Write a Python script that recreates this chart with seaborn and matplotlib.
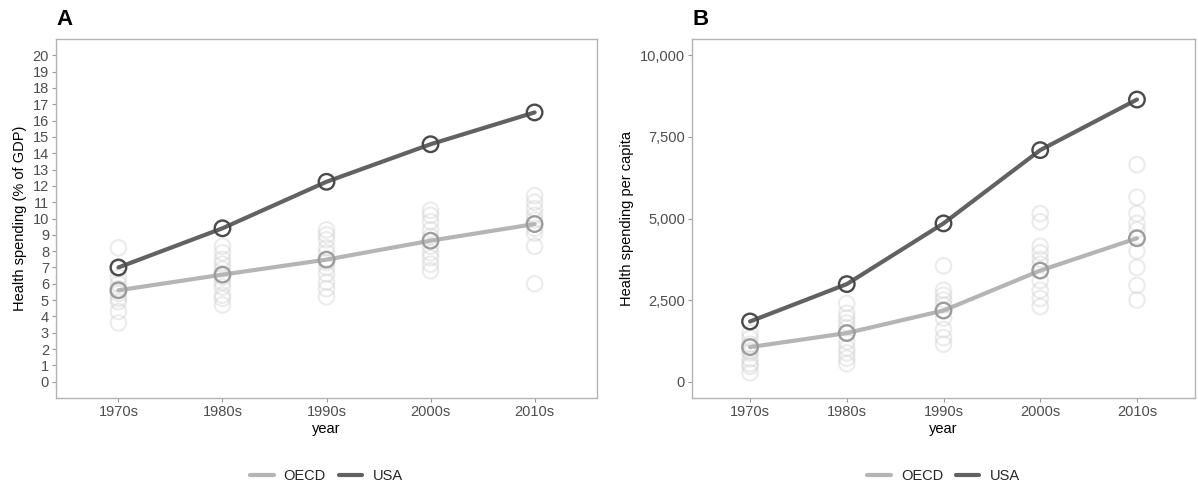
import numpy as np
import pandas as pd
import matplotlib
matplotlib.use("Agg")
import matplotlib.pyplot as plt
import matplotlib.ticker as mticker
import seaborn as sns

decades = ["1970s", "1980s", "1990s", "2000s", "2010s"]
groups = ["OECD", "USA"]

# Panel A: % of GDP
usa_gdp = [7.0, 9.4, 12.25, 14.55, 16.5]
oecd_gdp = [5.6, 6.56, 7.48, 8.64, 9.66]
countries_gdp = {
    "1970s": [8.2, 6.9, 6.4, 6.0, 5.7, 5.4, 5.1, 4.9, 4.3, 3.6],
    "1980s": [8.3, 7.9, 7.5, 7.2, 6.9, 6.4, 6.1, 5.8, 5.3, 5.1, 4.7],
    "1990s": [9.3, 9.0, 8.7, 8.2, 7.9, 7.3, 7.0, 6.6, 6.1, 5.7, 5.2],
    "2000s": [10.5, 10.2, 9.8, 9.3, 8.9, 8.3, 7.9, 7.6, 7.2, 6.8],
    "2010s": [11.4, 11.0, 10.6, 10.2, 9.9, 9.4, 9.1, 8.3, 6.0],
}

# Panel B: per capita
usa_pc = [1845, 2990, 4850, 7095, 8645]
oecd_pc = [1060, 1490, 2180, 3405, 4395]
countries_pc = {
    "1970s": [1500, 1340, 1150, 950, 880, 700, 550, 470, 270],
    "1980s": [2400, 2100, 1950, 1800, 1650, 1230, 1030, 880, 720, 550],
    "1990s": [3550, 2800, 2650, 2500, 2350, 1950, 1600, 1350, 1150],
    "2000s": [5150, 4900, 4150, 3950, 3750, 3600, 3100, 2800, 2550, 2300],
    "2010s": [6650, 5650, 5150, 4850, 4650, 4000, 3500, 2950, 2500],
}

sns.set_theme(style="white")
plt.rcParams["font.family"] = ["Liberation Sans", "DejaVu Sans"]

line_pal = {"OECD": "#b5b5b5", "USA": "#626262"}
edge_pal = {"OECD": "#9c9c9c", "USA": "#4a4a4a"}

fig = plt.figure(figsize=(11.98, 4.91), dpi=100)
W, H = 1198, 491
axA = fig.add_axes([56 / W, 1 - 398 / H, 541 / W, 359 / H])
axB = fig.add_axes([692 / W, 1 - 398 / H, 503 / W, 359 / H])


def build(usa, oecd, countries):
    summ = pd.DataFrame({
        "decade": decades * 2,
        "group": ["OECD"] * 5 + ["USA"] * 5,
        "value": list(oecd) + list(usa),
    })
    rows = []
    for d in decades:
        for v in countries[d]:
            rows.append({"decade": d, "value": v})
    pts = pd.DataFrame(rows)
    return summ, pts


def draw(ax, usa, oecd, countries, ylabel, yticks, ylim, fmt, tag):
    summ, pts = build(usa, oecd, countries)
    sns.scatterplot(data=pts, x="decade", y="value", ax=ax, marker="o", s=125,
                    facecolors="none", edgecolor="#cfcfcf", linewidth=1.5,
                    alpha=0.4, legend=False, zorder=2)
    sns.lineplot(data=summ, x="decade", y="value", hue="group", hue_order=groups,
                 palette=line_pal, linewidth=3, ax=ax, zorder=3, legend=True)
    for g in groups:
        sub = summ[summ.group == g]
        sns.scatterplot(data=sub, x="decade", y="value", ax=ax, marker="o", s=125,
                        facecolors="none", edgecolor=edge_pal[g], linewidth=1.7,
                        legend=False, zorder=4)
    ax.set_xlim(-0.6, 4.6)
    ax.set_ylim(*ylim)
    ax.set_yticks(yticks)
    if fmt:
        ax.yaxis.set_major_formatter(mticker.FuncFormatter(lambda v, p: f"{int(v):,}"))
    ax.set_xlabel("year", fontsize=10.5, color="black", labelpad=2)
    ax.set_ylabel(ylabel, fontsize=10.5, color="black", labelpad=4)
    ax.tick_params(axis="both", which="both", length=3, width=0.8, color="#999999",
                   labelsize=10.5, labelcolor="#4d4d4d", pad=2, left=True, bottom=True)
    for sp in ax.spines.values():
        sp.set_color("#b3b3b3")
        sp.set_linewidth(1.0)
    handles, labels = ax.get_legend_handles_labels()
    ax.legend(handles=handles[:2], labels=labels[:2], loc="center",
              bbox_to_anchor=(0.5, -0.217), ncol=2, frameon=False, fontsize=10.5,
              handlelength=1.6, columnspacing=0.9, handletextpad=0.7)
    ax.text(0.0, 1.025, tag, transform=ax.transAxes, fontsize=16, fontweight="bold",
            ha="left", va="bottom", color="black")


draw(axA, usa_gdp, oecd_gdp, countries_gdp, "Health spending (% of GDP)",
     list(range(0, 21)), (-1, 21), False, "A")
draw(axB, usa_pc, oecd_pc, countries_pc, "Health spending per capita",
     [0, 2500, 5000, 7500, 10000], (-500, 10500), True, "B")

fig.savefig("out.png", dpi=100)
